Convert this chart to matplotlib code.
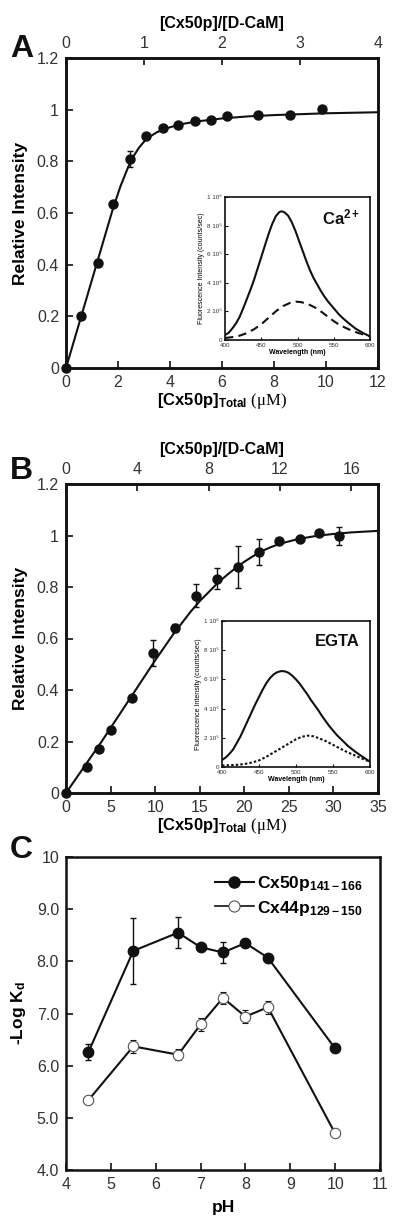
import numpy as np
import matplotlib.pyplot as plt
from matplotlib.lines import Line2D

plt.rcParams['font.family'] = ['Liberation Sans', 'DejaVu Sans']
plt.rcParams['mathtext.fontset'] = 'custom'
plt.rcParams['mathtext.rm'] = 'Liberation Serif'
plt.rcParams['mathtext.bf'] = 'Liberation Sans:bold'
plt.rcParams['mathtext.it'] = 'Liberation Sans:italic'
plt.rcParams['mathtext.sf'] = 'Liberation Sans'

# ---- panel A: Ca2+ titration ----
a_conc = [0, 0.58, 1.22, 1.82, 2.46, 3.07, 3.74, 4.32, 4.96, 5.57, 6.18, 7.40, 8.62, 9.83]
a_int = [0, 0.20, 0.405, 0.633, 0.809, 0.899, 0.928, 0.942, 0.956, 0.96, 0.977, 0.981, 0.979, 1.003]
a_err = [0, 0, 0, 0, 0.03, 0, 0, 0, 0, 0, 0, 0, 0, 0]
a_fit_x = [0, 0.6, 1.2, 1.8, 2.1, 2.4, 2.6, 2.8, 3.0, 3.2, 3.5, 4.0, 4.5, 5.0, 6.0, 7.0, 8.0, 10.0, 12.0]
a_fit_y = [0, 0.205, 0.41, 0.615, 0.705, 0.78, 0.82, 0.852, 0.876, 0.894, 0.913, 0.932, 0.945,
           0.954, 0.966, 0.974, 0.979, 0.986, 0.99]

a_wl_solid = [400, 405, 410, 415, 420, 425, 430, 435, 440, 445, 450, 455, 460, 465, 470, 475, 478,
              482, 487, 492, 497, 502, 507, 512, 517, 522, 527, 532, 537, 542, 547, 552, 557, 562,
              570, 580, 590, 600]
a_fl_solid = [0.035, 0.05, 0.08, 0.115, 0.16, 0.22, 0.285, 0.35, 0.42, 0.5, 0.58, 0.66, 0.74, 0.81,
              0.865, 0.895, 0.9, 0.893, 0.87, 0.825, 0.765, 0.695, 0.625, 0.555, 0.49, 0.435, 0.39,
              0.345, 0.305, 0.27, 0.24, 0.21, 0.18, 0.155, 0.12, 0.08, 0.05, 0.025]
a_wl_dash = [400, 410, 420, 430, 440, 450, 460, 470, 480, 490, 498, 505, 515, 525, 535, 545, 555,
             565, 575, 585, 595, 600]
a_fl_dash = [0.014, 0.02, 0.03, 0.048, 0.075, 0.11, 0.155, 0.2, 0.237, 0.26, 0.268, 0.265, 0.25,
             0.225, 0.19, 0.15, 0.115, 0.088, 0.065, 0.047, 0.032, 0.025]

# ---- panel B: EGTA titration ----
b_conc = [0, 2.4, 3.7, 5.0, 7.4, 9.8, 12.2, 14.6, 16.9, 19.3, 21.6, 23.9, 26.2, 28.4, 30.6]
b_int = [0, 0.1, 0.172, 0.243, 0.368, 0.545, 0.64, 0.766, 0.832, 0.878, 0.935, 0.978, 0.987, 1.01, 0.998]
b_err = [0, 0, 0, 0, 0, 0.05, 0.015, 0.045, 0.04, 0.08, 0.05, 0, 0, 0, 0.035]
b_fit_x = [0, 4, 8, 10, 12, 13, 14, 15, 16, 17, 18, 19, 20, 21, 22, 23, 24, 26, 28, 30, 32, 35]
b_fit_y = [0, 0.2, 0.41, 0.515, 0.615, 0.66, 0.705, 0.745, 0.78, 0.815, 0.845, 0.873, 0.898, 0.92,
           0.94, 0.955, 0.968, 0.986, 0.998, 1.006, 1.012, 1.018]

b_wl_solid = [400, 405, 410, 415, 420, 425, 430, 435, 440, 445, 450, 455, 460, 465, 470, 475, 480,
              485, 490, 495, 500, 505, 510, 515, 520, 525, 530, 535, 540, 545, 550, 555, 560, 565,
              570, 580, 590, 600]
b_fl_solid = [0.048, 0.065, 0.09, 0.12, 0.165, 0.21, 0.265, 0.32, 0.375, 0.43, 0.48, 0.53, 0.575,
              0.61, 0.635, 0.65, 0.657, 0.655, 0.645, 0.625, 0.6, 0.57, 0.535, 0.5, 0.46, 0.425,
              0.39, 0.35, 0.315, 0.28, 0.25, 0.22, 0.195, 0.17, 0.145, 0.105, 0.07, 0.036]
b_wl_dot = [400, 410, 420, 430, 440, 450, 460, 470, 480, 490, 500, 508, 516, 524, 532, 540, 550,
            560, 570, 580, 590, 600]
b_fl_dot = [0.01, 0.012, 0.015, 0.02, 0.03, 0.045, 0.07, 0.1, 0.13, 0.16, 0.19, 0.207, 0.215,
            0.21, 0.195, 0.178, 0.152, 0.125, 0.1, 0.078, 0.056, 0.036]

# ---- panel C: pH dependence ----
ph = [4.5, 5.5, 6.5, 7.0, 7.5, 8.0, 8.5, 10.0]
cx50 = [6.26, 8.2, 8.55, 8.27, 8.17, 8.35, 8.07, 6.33]
cx50_err = [0.15, 0.63, 0.3, 0, 0.2, 0.08, 0, 0]
cx44 = [5.34, 6.37, 6.21, 6.79, 7.3, 6.94, 7.12, 4.7]
cx44_err = [0.08, 0.12, 0.1, 0.13, 0.12, 0.12, 0.12, 0.05]

ink = '#111111'
tick_col = '#333333'
W, H = 400, 1229


def frame(ax, lw=1.8):
    for s in ax.spines.values():
        s.set_linewidth(lw)
        s.set_color(ink)


def px(x0, y0, x1, y1):
    return [x0 / W, 1 - y1 / H, (x1 - x0) / W, (y1 - y0) / H]


fig = plt.figure(figsize=(W / 100, H / 100), dpi=100)

rel_labels = ['0', '0.2', '0.4', '0.6', '0.8', '1', '1.2']
xlab = r'[Cx50p]$_{\mathbf{Total}}$ $\mathrm{(\mu M)}$'


def titration(rect, conc, inten, err, fx, fy, xmax, xticks, top_max, top_ticks):
    ax = fig.add_axes(rect)
    ax.plot(fx, fy, color=ink, lw=1.5)
    ax.errorbar(conc, inten, yerr=err, fmt='o', color=ink, ms=6.5, capsize=2.5,
                elinewidth=1.0, capthick=1.0, clip_on=False, zorder=3)
    ax.set_xlim(0, xmax)
    ax.set_ylim(0, 1.2)
    ax.set_xticks(xticks)
    ax.set_yticks([0, 0.2, 0.4, 0.6, 0.8, 1.0, 1.2])
    ax.set_yticklabels(rel_labels)
    ax.tick_params(direction='in', length=5, width=1.2, labelsize=11.5, colors=ink,
                   labelcolor=tick_col, top=False, right=False, pad=5)
    ax.set_ylabel('Relative Intensity', fontsize=12.5, fontweight='bold', labelpad=6)
    ax.set_xlabel(xlab, fontsize=12, fontweight='bold', labelpad=1)
    frame(ax)
    top = ax.twiny()
    top.set_xlim(0, top_max)
    top.set_xticks(top_ticks)
    top.tick_params(direction='in', length=5, width=1.2, labelsize=11.5, colors=ink,
                    labelcolor=tick_col, pad=5)
    top.set_xlabel('[Cx50p]/[D-CaM]', fontsize=11.5, fontweight='bold', labelpad=6)
    frame(top)
    return ax


def inset(rect, wl1, fl1, wl2, fl2, style2, tag):
    ins = fig.add_axes(rect)
    ins.plot(wl1, fl1, color=ink, lw=1.5)
    ins.plot(wl2, fl2, color=ink, lw=1.5, ls=style2)
    ins.set_xlim(400, 600)
    ins.set_ylim(0, 1.0)
    ins.set_xticks([400, 450, 500, 550, 600])
    ins.set_yticks([0, 0.2, 0.4, 0.6, 0.8, 1.0])
    ins.set_yticklabels(['0', '2 10⁵', '4 10⁵', '6 10⁵', '8 10⁵', '1 10⁶'])
    ins.tick_params(direction='in', length=2.5, width=0.8, labelsize=4.5,
                    colors=ink, labelcolor=tick_col, pad=2)
    ins.set_xlabel('Wavelength (nm)', fontsize=5, fontweight='bold', labelpad=1)
    ins.set_ylabel('Fluorescence Intensity (counts/sec)', fontsize=5, labelpad=2)
    frame(ins, 1.2)
    ins.text(0.93, 0.86, tag, transform=ins.transAxes, ha='right', va='center',
             fontsize=12, fontweight='bold', color=ink)
    return ins


# panel A
titration(px(66, 58, 378, 368), a_conc, a_int, a_err, a_fit_x, a_fit_y,
          12, [0, 2, 4, 6, 8, 10, 12], 4, [0, 1, 2, 3, 4])
inset(px(225, 197, 370, 340), a_wl_solid, a_fl_solid, a_wl_dash, a_fl_dash,
      (0, (4, 2.5)), r'Ca$^{\mathbf{2+}}$')

# panel B
titration(px(66, 484, 378, 793), b_conc, b_int, b_err, b_fit_x, b_fit_y,
          35, [0, 5, 10, 15, 20, 25, 30, 35], 17.5, [0, 4, 8, 12, 16])
inset(px(222, 621, 370, 767), b_wl_solid, b_fl_solid, b_wl_dot, b_fl_dot,
      (0, (1.2, 1)), 'EGTA')

# panel C
axc = fig.add_axes(px(66, 857, 380, 1170))
axc.errorbar(ph, cx50, yerr=cx50_err, fmt='-o', color=ink, ms=7.5, lw=1.5,
             capsize=2.5, elinewidth=1.0, capthick=1.0)
axc.errorbar(ph, cx44, yerr=cx44_err, fmt='-o', color=ink, mfc='white', ms=7.5,
             lw=1.5, mew=0.8, mec='#555555', capsize=2.5, elinewidth=1.0, capthick=1.0)
axc.set_xlim(4, 11)
axc.set_ylim(4, 10)
axc.set_xticks(range(4, 12))
axc.set_yticks([4, 5, 6, 7, 8, 9, 10])
axc.set_yticklabels(['4.0', '5.0', '6.0', '7.0', '8.0', '9.0', '10'])
axc.tick_params(direction='in', length=5, width=1.2, labelsize=11.5, colors=ink,
                labelcolor=tick_col, top=False, right=False, pad=5)
axc.set_xlabel('pH', fontsize=12.5, fontweight='bold', labelpad=6)
axc.set_ylabel(r'-Log K$_{\mathbf{d}}$', fontsize=12.5, fontweight='bold', labelpad=6)
frame(axc)
handles = [Line2D([], [], color=ink, marker='o', ms=8, lw=1.5),
           Line2D([], [], color=ink, marker='o', ms=8, lw=1.2, mfc='white', mec='#555555', mew=0.8)]
axc.legend(handles, [r'Cx50p$_{\mathbf{141-166}}$', r'Cx44p$_{\mathbf{129-150}}$'],
           loc='upper right', frameon=False, handlelength=2.2, handletextpad=0.2,
           labelspacing=0.3, borderaxespad=0.6, prop={'weight': 'bold', 'size': 12.5})

for letter, yb in [('A', 57), ('B', 479), ('C', 858)]:
    fig.text(10 / W, 1 - yb / H, letter, fontsize=23, fontweight='bold', color=ink,
             va='baseline', ha='left')

fig.savefig('out.png', dpi=100)
